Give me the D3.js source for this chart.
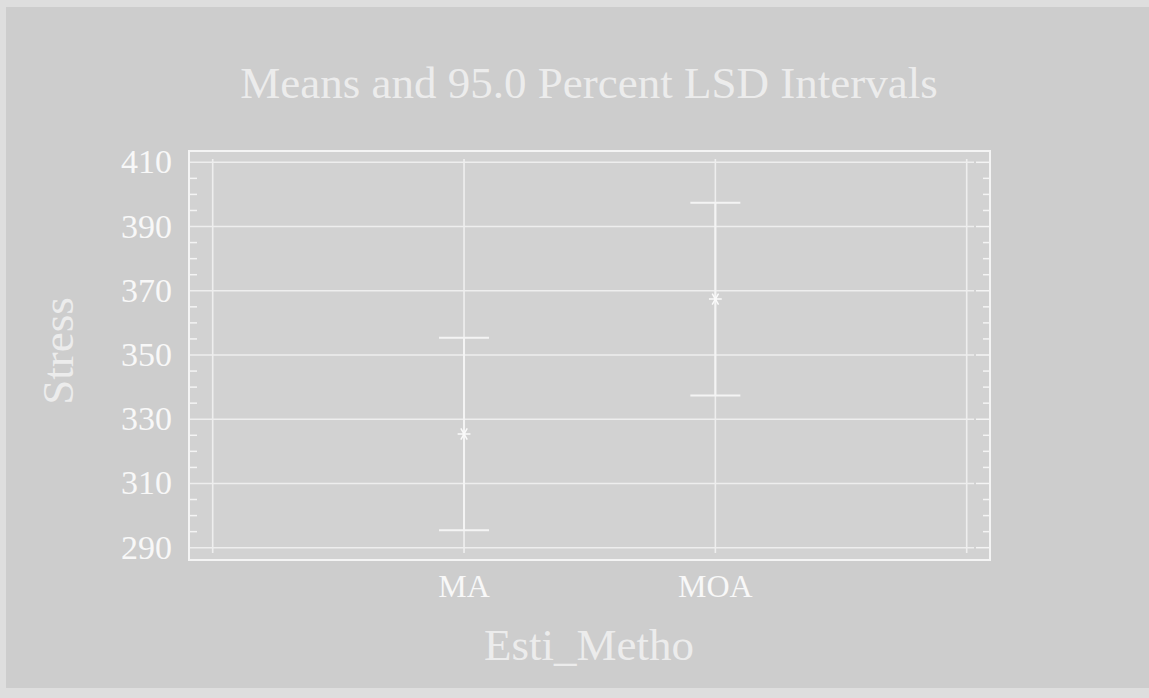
<!DOCTYPE html>
<html>
  <head>
    <meta http-equiv="Content-Type" content="text/html;charset=utf-8"/>
    <title>Means and LSD Intervals</title>
    <script src="https://cdn.jsdelivr.net/npm/d3@7"></script>
    <style>
      html, body { margin: 0; overflow: hidden; background: #cdcdcd; }
      svg { display: block; }
      text { font-family: "Liberation Serif", "Times New Roman", serif; }
    </style>
  </head>
  <body>
    <svg id="target"></svg>
  </body>
  <script>
    // values
    var categories = [ "MA", "MOA" ];
    var means = [ 325.4, 367.4 ];
    var lower = [ 295.4, 337.4 ];
    var upper = [ 355.4, 397.4 ];
    var yTicks = [ 290, 310, 330, 350, 370, 390, 410 ];

    var width = 1149, height = 698;
    var svg = d3.select( "#target" ).attr( "width", width ).attr( "height", height );

    // window edge strips + panel
    svg.append( "rect" ).attr( "x", 0 ).attr( "y", 0 ).attr( "width", 1300 ).attr( "height", height )
      .attr( "fill", "#dedede" );
    svg.append( "rect" ).attr( "x", 6 ).attr( "y", 7 ).attr( "width", 1300 ).attr( "height", 681 )
      .attr( "fill", "#cdcdcd" );

    var frame = { left: 189, top: 151, right: 990, bottom: 560 };
    var xScale = d3.scaleLinear().domain( [ 0, categories.length + 1 ] ).range( [ 212.7, 966.7 ] );
    var yScale = d3.scaleLinear().domain( [ 290, 410 ] ).range( [ 547.7, 162.3 ] );
    var minorTicks = d3.range( 290, 410.1, 5 ).filter( d => yTicks.indexOf( d ) < 0 );

    svg.append( "rect" )
      .attr( "x", frame.left ).attr( "y", frame.top )
      .attr( "width", frame.right - frame.left ).attr( "height", frame.bottom - frame.top )
      .attr( "fill", "#d2d2d2" );

    var lineCol = "#f4f4f4";

    // horizontal grid lines
    svg.append( "g" ).selectAll( "line" ).data( yTicks ).enter().append( "line" )
      .attr( "x1", frame.left ).attr( "x2", frame.right - 16 )
      .attr( "y1", d => yScale( d ) ).attr( "y2", d => yScale( d ) )
      .attr( "stroke", "#eeeeee" ).attr( "stroke-width", 1.5 );
    svg.append( "g" ).selectAll( "line" ).data( yTicks ).enter().append( "line" )
      .attr( "x1", frame.right - 14 ).attr( "x2", frame.right )
      .attr( "y1", d => yScale( d ) ).attr( "y2", d => yScale( d ) )
      .attr( "stroke", lineCol ).attr( "stroke-width", 1.5 );

    // vertical grid lines
    svg.append( "g" ).selectAll( "line" ).data( d3.range( 0, categories.length + 2 ) ).enter().append( "line" )
      .attr( "x1", d => xScale( d ) ).attr( "x2", d => xScale( d ) )
      .attr( "y1", 159 ).attr( "y2", 553 )
      .attr( "stroke", "#eeeeee" ).attr( "stroke-width", 1.6 );

    // minor ticks, left and right
    [ [ frame.left, frame.left + 8 ], [ frame.right - 7, frame.right ] ].forEach( function ( xs ) {
      svg.append( "g" ).selectAll( "line" ).data( minorTicks ).enter().append( "line" )
        .attr( "x1", xs[0] ).attr( "x2", xs[1] )
        .attr( "y1", d => yScale( d ) ).attr( "y2", d => yScale( d ) )
        .attr( "stroke", lineCol ).attr( "stroke-width", 1.5 );
    } );

    // frame
    svg.append( "rect" )
      .attr( "x", frame.left ).attr( "y", frame.top )
      .attr( "width", frame.right - frame.left ).attr( "height", frame.bottom - frame.top )
      .attr( "fill", "none" ).attr( "stroke", lineCol ).attr( "stroke-width", 2 );

    // y tick labels
    svg.append( "g" ).selectAll( "text" ).data( yTicks ).enter().append( "text" )
      .attr( "x", 172 ).attr( "y", d => yScale( d ) + 11 )
      .attr( "text-anchor", "end" ).attr( "font-size", 34 ).attr( "fill", "#f8f8f8" )
      .text( d => d );

    // x tick labels
    svg.append( "g" ).selectAll( "text" ).data( categories ).enter().append( "text" )
      .attr( "x", ( d, i ) => xScale( i + 1 ) ).attr( "y", 597 )
      .attr( "text-anchor", "middle" ).attr( "font-size", 32 ).attr( "fill", "#f8f8f8" )
      .text( d => d );

    // LSD intervals
    var bars = svg.append( "g" );
    bars.selectAll( "line.v" ).data( categories ).enter().append( "line" )
      .attr( "x1", ( d, i ) => xScale( i + 1 ) ).attr( "x2", ( d, i ) => xScale( i + 1 ) )
      .attr( "y1", ( d, i ) => yScale( lower[i] ) ).attr( "y2", ( d, i ) => yScale( upper[i] ) )
      .attr( "stroke", lineCol ).attr( "stroke-width", 2 );
    [ upper, lower ].forEach( function ( arr ) {
      bars.append( "g" ).selectAll( "line" ).data( categories ).enter().append( "line" )
        .attr( "x1", ( d, i ) => xScale( i + 1 ) - 25 ).attr( "x2", ( d, i ) => xScale( i + 1 ) + 25 )
        .attr( "y1", ( d, i ) => yScale( arr[i] ) ).attr( "y2", ( d, i ) => yScale( arr[i] ) )
        .attr( "stroke", lineCol ).attr( "stroke-width", 2 );
    } );
    bars.selectAll( "path" ).data( categories ).enter().append( "path" )
      .attr( "transform", ( d, i ) => "translate(" + xScale( i + 1 ) + "," + yScale( means[i] ) + ") rotate(90)" )
      .attr( "d", d3.symbol( d3.symbolAsterisk, 115 ) )
      .attr( "fill", "none" ).attr( "stroke", "#fafafa" ).attr( "stroke-width", 1.5 );

    // titles
    svg.append( "text" ).attr( "x", 589 ).attr( "y", 98 )
      .attr( "text-anchor", "middle" ).attr( "font-size", 45 ).attr( "fill", "#ececec" )
      .text( "Means and 95.0 Percent LSD Intervals" );
    svg.append( "text" ).attr( "x", 589 ).attr( "y", 660 )
      .attr( "text-anchor", "middle" ).attr( "font-size", 45 ).attr( "fill", "#ececec" )
      .text( "Esti_Metho" );
    svg.append( "text" )
      .attr( "transform", "translate(73,351) rotate(-90)" )
      .attr( "text-anchor", "middle" ).attr( "font-size", 45 ).attr( "fill", "#ececec" )
      .text( "Stress" );
  </script>
</html>
